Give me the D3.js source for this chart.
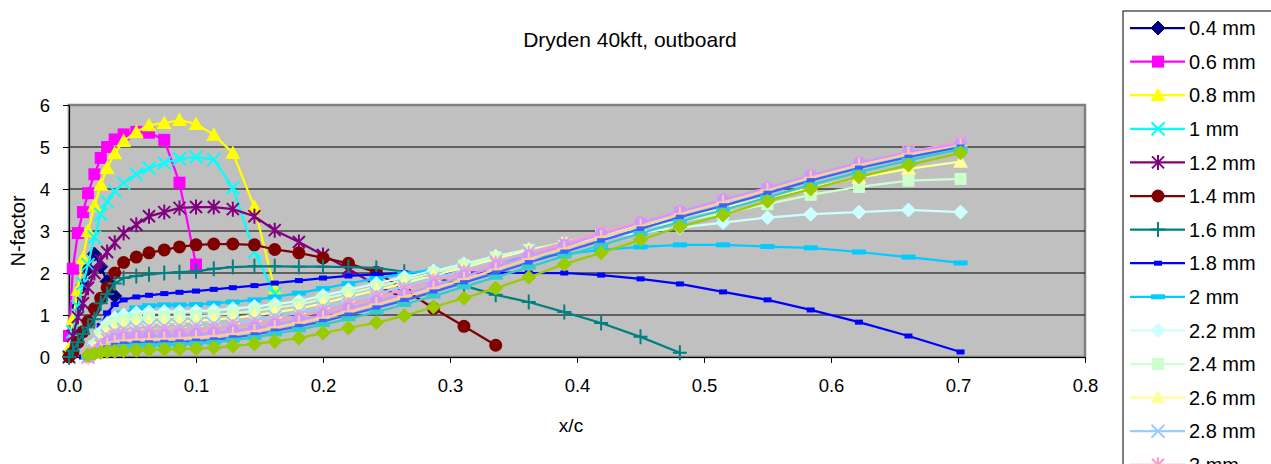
<!DOCTYPE html>
<html>
<head>
<meta charset="utf-8">
<script src="https://cdn.jsdelivr.net/npm/d3@7"></script>
<style>
  body { margin: 0; background: #fff; }
  text { font-family: "Liberation Sans", Arial, sans-serif; fill: #000; }
</style>
</head>
<body>
<div id="chart"></div>
<script>
// x/c stations
const xc = [0.000, 0.003, 0.007, 0.011, 0.015, 0.020, 0.025, 0.030, 0.036, 0.043,
            0.053, 0.063, 0.075, 0.087, 0.100, 0.114, 0.129, 0.146, 0.162, 0.181,
            0.200, 0.220, 0.242, 0.264, 0.287, 0.311, 0.336, 0.362, 0.390, 0.419,
            0.450, 0.481, 0.515, 0.550, 0.584, 0.622, 0.661, 0.702];

const labels = ["0.4 mm","0.6 mm","0.8 mm","1 mm","1.2 mm","1.4 mm","1.6 mm","1.8 mm","2 mm",
                "2.2 mm","2.4 mm","2.6 mm","2.8 mm","3 mm","3.2 mm","3.4 mm","3.6 mm","3.8 mm","4 mm"];

const _ = null;
// N-factor per series, one value per station (null = no point)
const n04 = [0.0,0.6,1.2,1.7,2.1,2.45,2.15,1.8,1.45];
const n06 = [0.5,2.1,2.95,3.45,3.9,4.35,4.74,5.0,5.18,5.3,5.36,5.34,5.17,4.15,2.2];
const n08 = [0.2,0.9,1.6,2.35,3.0,3.6,4.1,4.5,4.85,5.14,5.36,5.52,5.57,5.64,5.55,5.29,4.86,3.57,1.6];
const n10 = [0.0,0.6,1.2,1.75,2.2,2.85,3.4,3.7,3.95,4.14,4.35,4.5,4.62,4.72,4.76,4.7,4.03,2.5,1.5];
const n12 = [0.0,0.5,0.95,1.28,1.65,2.0,2.3,2.5,2.72,2.95,3.15,3.35,3.45,3.55,3.57,3.57,3.52,3.35,3.02,2.74,
             2.43,2.1,1.7,1.4];
const n14 = [0.0,0.1,0.35,0.6,0.85,1.15,1.4,1.65,2.0,2.25,2.38,2.48,2.55,2.62,2.67,2.69,2.69,2.67,2.56,2.48,
             2.36,2.23,2.02,1.6,1.16,0.73,0.28];
const n16 = [0.0,0.15,0.35,0.55,0.7,0.9,1.28,1.5,1.75,1.88,1.93,1.97,2.0,2.02,2.04,2.1,2.14,2.16,2.16,2.15,
             2.15,2.14,2.12,2.03,1.9,1.7,1.48,1.31,1.07,0.81,0.48,0.1];
const n18 = [_,_,_,0.0,0.05,0.3,0.75,1.05,1.25,1.36,1.43,1.47,1.51,1.54,1.57,1.61,1.65,1.7,1.76,1.82,
             1.88,1.93,1.97,2.0,2.0,2.01,2.01,2.0,2.0,1.95,1.86,1.74,1.55,1.36,1.12,0.83,0.5,0.12];
const n20 = [_,_,_,_,0.0,0.15,0.35,0.6,0.85,1.05,1.17,1.22,1.24,1.24,1.25,1.28,1.31,1.36,1.43,1.52,
             1.63,1.75,1.87,1.98,2.08,2.17,2.27,2.37,2.45,2.55,2.62,2.67,2.67,2.63,2.6,2.5,2.38,2.24];
const n22 = [_,_,_,_,0.0,0.3,0.6,0.8,0.93,1.0,1.05,1.07,1.08,1.08,1.09,1.11,1.15,1.2,1.26,1.33,
             1.46,1.6,1.75,1.9,2.05,2.22,2.4,2.56,2.7,2.84,2.96,3.08,3.2,3.32,3.4,3.45,3.5,3.45];
const n24 = [_,_,_,_,0.0,0.25,0.5,0.7,0.82,0.88,0.92,0.94,0.95,0.96,0.97,1.0,1.04,1.1,1.17,1.25,
             1.38,1.52,1.67,1.83,2.0,2.18,2.37,2.55,2.72,2.9,3.07,3.23,3.42,3.64,3.86,4.05,4.2,4.24];
const n26 = [_,_,_,_,0.0,0.2,0.42,0.6,0.7,0.76,0.8,0.82,0.83,0.84,0.86,0.89,0.93,0.99,1.06,1.15,
             1.28,1.43,1.59,1.76,1.94,2.13,2.33,2.53,2.73,2.93,3.13,3.33,3.55,3.8,4.03,4.27,4.48,4.65];
const n28 = [_,_,_,_,0.0,0.15,0.35,0.5,0.6,0.65,0.69,0.71,0.72,0.73,0.75,0.78,0.82,0.88,0.96,1.05,
             1.18,1.33,1.5,1.68,1.87,2.07,2.28,2.5,2.72,2.95,3.18,3.41,3.65,3.92,4.2,4.5,4.78,5.05];
const n30 = [_,_,_,_,0.0,0.12,0.28,0.42,0.5,0.55,0.58,0.6,0.61,0.62,0.64,0.67,0.72,0.78,0.86,0.96,
             1.09,1.25,1.42,1.61,1.81,2.02,2.24,2.47,2.71,2.96,3.21,3.46,3.72,4.0,4.29,4.6,4.88,5.12];
const n32 = [_,_,_,_,0.0,0.1,0.22,0.34,0.42,0.46,0.49,0.5,0.51,0.52,0.54,0.57,0.62,0.69,0.77,0.88,
             1.0,1.15,1.32,1.5,1.7,1.92,2.15,2.4,2.65,2.92,3.19,3.46,3.74,4.03,4.32,4.62,4.88,5.07];
const n34 = [_,_,_,_,0.0,0.08,0.18,0.28,0.35,0.39,0.41,0.42,0.43,0.44,0.46,0.49,0.54,0.61,0.7,0.81,
             0.93,1.08,1.25,1.43,1.63,1.85,2.08,2.33,2.58,2.85,3.12,3.4,3.68,3.97,4.27,4.57,4.83,5.03];
const n36 = [_,_,_,_,0.0,0.06,0.14,0.22,0.28,0.31,0.33,0.34,0.35,0.36,0.38,0.41,0.46,0.53,0.62,0.73,
             0.85,1.0,1.17,1.35,1.55,1.77,2.0,2.25,2.5,2.77,3.05,3.33,3.6,3.9,4.2,4.5,4.76,5.0];
const n38 = [_,_,_,_,0.0,0.05,0.11,0.17,0.22,0.25,0.27,0.28,0.29,0.3,0.32,0.35,0.4,0.46,0.55,0.65,
             0.77,0.91,1.07,1.25,1.45,1.67,1.9,2.14,2.4,2.66,2.94,3.22,3.5,3.8,4.1,4.4,4.68,4.95];
const n40 = [_,_,_,_,0.05,0.08,0.11,0.13,0.14,0.15,0.16,0.17,0.18,0.19,0.2,0.22,0.26,0.31,0.37,0.45,
             0.57,0.69,0.82,0.98,1.19,1.4,1.64,1.9,2.21,2.48,2.79,3.1,3.38,3.71,4.0,4.29,4.57,4.86];

const colors  = ["#000080","#FF00FF","#FFFF00","#00FFFF","#800080","#800000","#008080","#0000FF","#00CCFF",
                 "#CCFFFF","#CCFFCC","#FFFF99","#99CCFF","#FF99CC","#CC99FF","#FFCC99","#3366FF","#33CCCC","#99CC00"];
const markers = ["diamond","square","triangle","x","star","circle","plus","shortdash","longdash",
                 "diamond","square","triangle","x","star","circle","plus","shortdash","longdash","diamond"];
const xTicks = [0, 0.1, 0.2, 0.3, 0.4, 0.5, 0.6, 0.7, 0.8];
const yTicks = [0, 1, 2, 3, 4, 5, 6];

const allN = [n04,n06,n08,n10,n12,n14,n16,n18,n20,n22,n24,n26,n28,n30,n32,n34,n36,n38,n40];

const w = 1271, h = 464;
const pLeft = 69, pRight = 1085, pTop = 105, pBottom = 357;

const svg = d3.select("#chart").append("svg")
  .attr("width", w).attr("height", h);
svg.append("rect").attr("width", w).attr("height", h).attr("fill", "#fff");

const x = d3.scaleLinear().domain([0, 0.8]).range([pLeft, pRight]);
const y = d3.scaleLinear().domain([0, 6]).range([pBottom, pTop]);

// plot area
svg.append("rect")
  .attr("x", pLeft).attr("y", pTop)
  .attr("width", pRight - pLeft).attr("height", pBottom - pTop)
  .attr("fill", "#C0C0C0").attr("stroke", "#808080").attr("stroke-width", 2.5);

// gridlines
svg.append("g").selectAll("line")
  .data(yTicks.filter(d => d > 0 && d < 6))
  .enter().append("line")
  .attr("x1", pLeft).attr("x2", pRight)
  .attr("y1", d => y(d)).attr("y2", d => y(d))
  .attr("stroke", "#000").attr("stroke-width", 1);

// axes
const xAxis = d3.axisBottom(x).tickValues(xTicks).tickFormat(d3.format(".1f")).tickSize(6).tickSizeOuter(0);
const yAxis = d3.axisLeft(y).tickValues(yTicks).tickFormat(d3.format("d")).tickSize(6).tickSizeOuter(0);

const gx = svg.append("g").attr("transform", "translate(0," + pBottom + ")").call(xAxis);
const gy = svg.append("g").attr("transform", "translate(" + pLeft + ",0)").call(yAxis);
[gx, gy].forEach(g => {
  g.select(".domain").attr("stroke", "#000").attr("stroke-width", 1);
  g.selectAll(".tick line").attr("stroke", "#000");
  g.selectAll(".tick text").attr("font-size", "18.5px").attr("font-family", "Liberation Sans, Arial, sans-serif").attr("fill", "#000");
});
gx.selectAll(".tick text").attr("dy", "1.4em");
gy.selectAll(".tick text").attr("x", -19).attr("dy", "0.35em");

// marker shapes
function markerNode(g, type, color) {
  const sw = 2;
  if (type === "diamond") {
    g.append("path").attr("d", "M0,-7L7,0L0,7L-7,0Z").attr("fill", color).attr("stroke", color).attr("stroke-width", 1);
  } else if (type === "square") {
    g.append("rect").attr("x", -6).attr("y", -6).attr("width", 12).attr("height", 12).attr("fill", color);
  } else if (type === "triangle") {
    g.append("path").attr("d", "M0,-7.5L7.5,6L-7.5,6Z").attr("fill", color);
  } else if (type === "x") {
    g.append("path").attr("d", "M-6.5,-6.5L6.5,6.5M-6.5,6.5L6.5,-6.5").attr("stroke", color).attr("stroke-width", sw).attr("fill", "none");
  } else if (type === "star") {
    g.append("path").attr("d", "M-6,-6L6,6M-6,6L6,-6M0,-7.5V7.5").attr("stroke", color).attr("stroke-width", sw).attr("fill", "none");
  } else if (type === "circle") {
    g.append("circle").attr("r", 6.5).attr("fill", color);
  } else if (type === "plus") {
    g.append("path").attr("d", "M-7,0H7M0,-7.5V7.5").attr("stroke", color).attr("stroke-width", sw).attr("fill", "none");
  } else if (type === "shortdash") {
    g.append("rect").attr("x", -4).attr("y", -2.5).attr("width", 8).attr("height", 5).attr("fill", color);
  } else if (type === "longdash") {
    g.append("rect").attr("x", -7).attr("y", -2.5).attr("width", 14).attr("height", 5).attr("fill", color);
  }
}

const line = d3.line()
  .defined(d => d[1] != null)
  .x(d => x(d[0]))
  .y(d => y(d[1]));

const plot = svg.append("g");
allN.forEach((vals, i) => {
  const pts = vals.map((v, j) => [xc[j], v]).filter(d => d[1] != null);
  const sg = plot.append("g");
  sg.append("path").datum(pts)
    .attr("d", line)
    .attr("fill", "none")
    .attr("stroke", colors[i])
    .attr("stroke-width", 2.25);
  sg.selectAll("g.m").data(pts).enter().append("g")
    .attr("class", "m")
    .attr("transform", d => "translate(" + x(d[0]) + "," + y(d[1]) + ")")
    .each(function () { markerNode(d3.select(this), markers[i], colors[i]); });
});

// title and axis titles
svg.append("text").attr("x", 630).attr("y", 47).attr("text-anchor", "middle")
  .attr("font-size", "21px").text("Dryden 40kft, outboard");
svg.append("text").attr("x", (pLeft + pRight) / 2 - 6).attr("y", 432).attr("text-anchor", "middle")
  .attr("font-size", "19px").text("x/c");
svg.append("text").attr("transform", "translate(25,231) rotate(-90)").attr("text-anchor", "middle")
  .attr("font-size", "20px").text("N-factor");

// legend (runs past the bottom edge, as in the original)
const lg = svg.append("g").attr("transform", "translate(1123,11)");
lg.append("rect").attr("x", 0).attr("y", 0).attr("width", 170).attr("height", 520)
  .attr("fill", "#fff").attr("stroke", "#000").attr("stroke-width", 1);
labels.forEach((lab, i) => {
  const cy = 17 + i * 33.6;
  const item = lg.append("g").attr("transform", "translate(0," + cy + ")");
  item.append("line").attr("x1", 7).attr("x2", 62).attr("y1", 0).attr("y2", 0)
    .attr("stroke", colors[i]).attr("stroke-width", 2.25);
  const mg = item.append("g").attr("transform", "translate(35,0)");
  markerNode(mg, markers[i], colors[i]);
  item.append("text").attr("x", 66).attr("y", 0).attr("dy", "0.36em")
    .attr("font-size", "20px").text(lab);
});
</script>
</body>
</html>
